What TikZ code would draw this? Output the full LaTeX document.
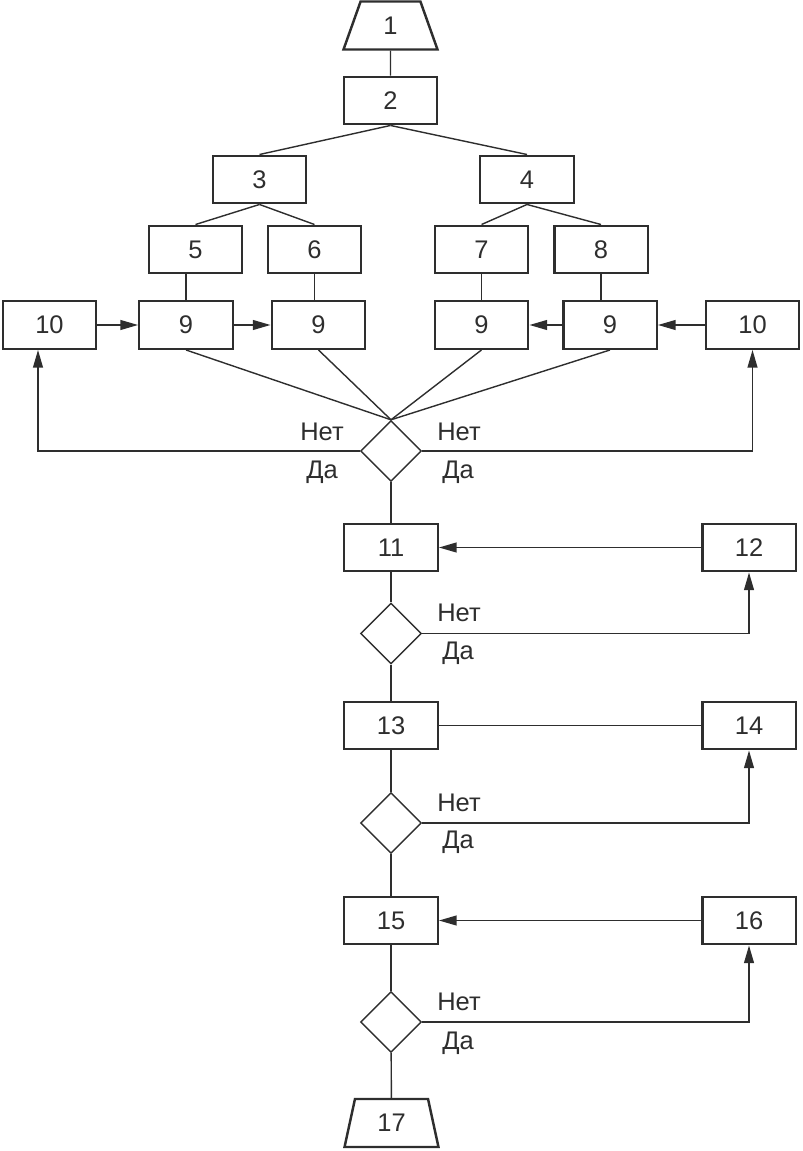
\documentclass[tikz,border=0pt]{standalone}
\usepackage{fontspec}
\setmainfont{Liberation Sans}
\usetikzlibrary{shapes,arrows,positioning,calc,arrows.meta}
\definecolor{ink}{HTML}{2E2E2E}

\begin{document}
\begin{tikzpicture}[x=0.02cm,y=-0.02cm,
    box/.style={draw=ink, line width=1.4pt, minimum width=1.87cm, minimum height=0.95cm, inner sep=0pt, text=ink, font=\fontsize{14.5}{17}\selectfont},
    term/.style={trapezium, trapezium stretches=true, trapezium angle=77, draw=ink, line width=1.4pt, minimum width=1.88cm, minimum height=0.96cm, inner sep=0pt, text=ink, font=\fontsize{14.5}{17}\selectfont},
    cond/.style={diamond, draw=ink, line width=0.8pt, minimum width=1.22cm, minimum height=1.22cm, inner sep=0pt},
    lbl/.style={inner sep=0pt, text=ink, font=\fontsize{14.5}{17}\selectfont},
    line/.style={draw=ink, line width=0.8pt},
    arr/.style={line, -{Triangle[length=10pt,width=5.6pt]}}]
    \useasboundingbox (0,0) rectangle (802,1151);

    % Tree
    \node[term] (t1) at (390.5,25.5) {1};
    \node[box] (b2) at (390.5,100.5) {2};
    \node[box] (b3) at (259.5,179.5) {3};
    \node[box] (b4) at (527,179.5) {4};
    \node[box] (b5) at (195.5,249.5) {5};
    \node[box] (b6) at (314.5,249.5) {6};
    \node[box] (b7) at (481.5,249.5) {7};
    \node[box] (b8) at (601,249.5) {8};

    \node[box] (b10l) at (49.5,325) {10};
    \node[box] (b9a) at (186,325) {9};
    \node[box] (b9b) at (318.5,325) {9};
    \node[box] (b9c) at (481.5,325) {9};
    \node[box] (b9d) at (610,325) {9};
    \node[box] (b10r) at (752.5,325) {10};

    \draw[line] (t1) -- (b2);
    \draw[line] (b2.south) -- (b3.north);
    \draw[line] (b2.south) -- (b4.north);
    \draw[line] (b3.south) -- (b5.north);
    \draw[line] (b3.south) -- (b6.north);
    \draw[line] (b4.south) -- (b7.north);
    \draw[line] (b4.south) -- (b8.north);
    \draw[line] (b9a.north) -- (b9a.north |- b5.south);
    \draw[line] (b6.south) -- (b6.south |- b9b.north);
    \draw[line] (b7.south) -- (b9c.north);
    \draw[line] (b8.south) -- (b8.south |- b9d.north);

    \draw[arr] (b10l) -- (b9a);
    \draw[arr] (b9a) -- (b9b);
    \draw[arr] (b9d) -- (b9c);
    \draw[arr] (b10r) -- (b9d);

    % First check
    \node[cond] (d1) at (391,451) {};
    \draw[line] (b9a.south) -- (d1.north);
    \draw[line] (b9b.south) -- (d1.north);
    \draw[line] (b9c.south) -- (d1.north);
    \draw[line] (b9d.south) -- (d1.north);
    \draw[arr] (d1.west) -| ([xshift=-0.23cm]b10l.south);
    \draw[arr] (d1.east) -| (b10r.south);
    \node[lbl] (n1l) at (322,432) {Нет};
    \node[lbl] (y1l) at (322,472) {Да};
    \node[lbl] (n1r) at (459,432) {Нет};
    \node[lbl] (y1r) at (458,472) {Да};

    % Main column
    \node[box] (b11) at (391,547.5) {11};
    \node[box] (b12) at (749,547.5) {12};
    \node[cond] (d2) at (391,633.5) {};
    \node[box] (b13) at (391,725.5) {13};
    \node[box] (b14) at (749,725.5) {14};
    \node[cond] (d3) at (391,823) {};
    \node[box] (b15) at (391,920.5) {15};
    \node[box] (b16) at (749,920.5) {16};
    \node[cond] (d4) at (391,1022) {};
    \node[term] (t17) at (391.5,1123) {17};

    \draw[line] (d1) -- (b11);
    \draw[line] (b11) -- (d2);
    \draw[line] (d2) -- (b13);
    \draw[line] (b13) -- (d3);
    \draw[line] (d3) -- (b15);
    \draw[line] (b15) -- (d4);
    \draw[line] (d4) -- (t17);

    \draw[arr] (b12) -- (b11);
    \draw[line] (b13) -- (b14);
    \draw[arr] (b16) -- (b15);
    \draw[arr] (d2.east) -| (b12.south);
    \draw[arr] (d3.east) -| (b14.south);
    \draw[arr] (d4.east) -| (b16.south);

    \node[lbl] (n2) at (459,613) {Нет};
    \node[lbl] (y2) at (458,653) {Да};
    \node[lbl] (n3) at (459,803) {Нет};
    \node[lbl] (y3) at (458,842) {Да};
    \node[lbl] (n4) at (459,1002) {Нет};
    \node[lbl] (y4) at (458,1043) {Да};
\end{tikzpicture}
\end{document}
